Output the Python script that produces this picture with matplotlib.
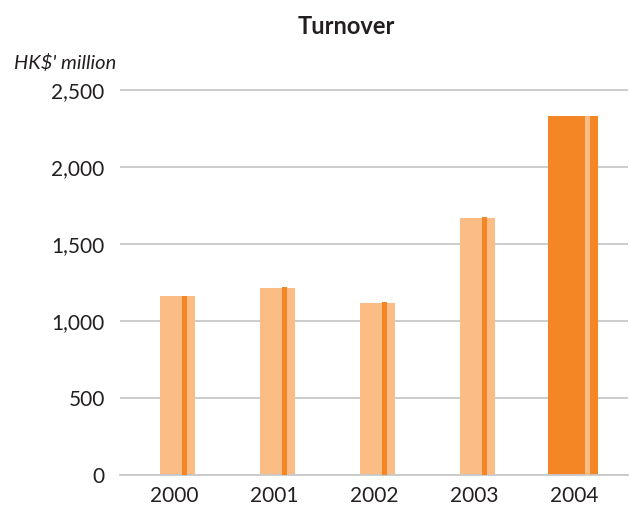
import matplotlib
matplotlib.use("Agg")
import matplotlib.pyplot as plt
import numpy as np

years = ["2000", "2001", "2002", "2003", "2004"]
turnover = [1162, 1214, 1117, 1669, 2331]
turnover_marker = [1162, 1223, 1123, 1677, 2331]
yticks = [0, 500, 1000, 1500, 2000, 2500]
ytick_labels = ["0", "500", "1,000", "1,500", "2,000", "2,500"]

light = "#FBBC86"
dark = "#F58625"

plt.rcParams['font.family'] = ['Lato', 'DejaVu Sans']

W, H = 630, 507
fig = plt.figure(figsize=(W / 100, H / 100), dpi=100)
ax_left, ax_right, ax_bottom, ax_top = 120, 628, 475, 88
ax = fig.add_axes([ax_left / W, (H - ax_bottom) / H, (ax_right - ax_left) / W, (ax_bottom - ax_top) / H])

x = np.arange(len(years))
for i in range(len(years)):
    if i < len(years) - 1:
        ax.bar(x[i] - 0.14, turnover[i], width=0.35, align='edge', color=light, zorder=2)
        ax.bar(x[i] + 0.08, turnover_marker[i], width=0.05, align='edge', color=dark, zorder=3)
    else:
        ax.bar(x[i] - 0.26, turnover[i], width=0.50, align='edge', color=dark, zorder=2)
        ax.bar(x[i] + 0.11, turnover_marker[i], width=0.05, align='edge', color=light, zorder=3)

ax.set_xlim(-0.54, 4.54)
ax.set_ylim(0, 2500 * (ax_bottom - ax_top) / (475 - 90))
ax.set_yticks(yticks)
ax.set_yticklabels(ytick_labels)
ax.set_xticks(x)
ax.set_xticklabels(years)
ax.yaxis.grid(True, color="#C8C8C8", linewidth=1.3, zorder=0)
ax.set_axisbelow(True)
for s in ["top", "right", "left"]:
    ax.spines[s].set_visible(False)
ax.spines["bottom"].set_color("#C8C8C8")
ax.spines["bottom"].set_linewidth(1.3)
ax.tick_params(axis='y', length=0, pad=11, labelsize=15, colors="#231F20")
ax.tick_params(axis='x', length=0, pad=8, labelsize=15, colors="#231F20")

fig.text(346 / W, 1 - 26 / H, "Turnover", ha='center', va='center', fontsize=17, fontweight='bold', color="#231F20")
fig.text(14 / W, 1 - 63 / H, "HK$' million", ha='left', va='center', fontsize=14.5, style='italic', color="#231F20")

fig.savefig("out.png", dpi=100)
